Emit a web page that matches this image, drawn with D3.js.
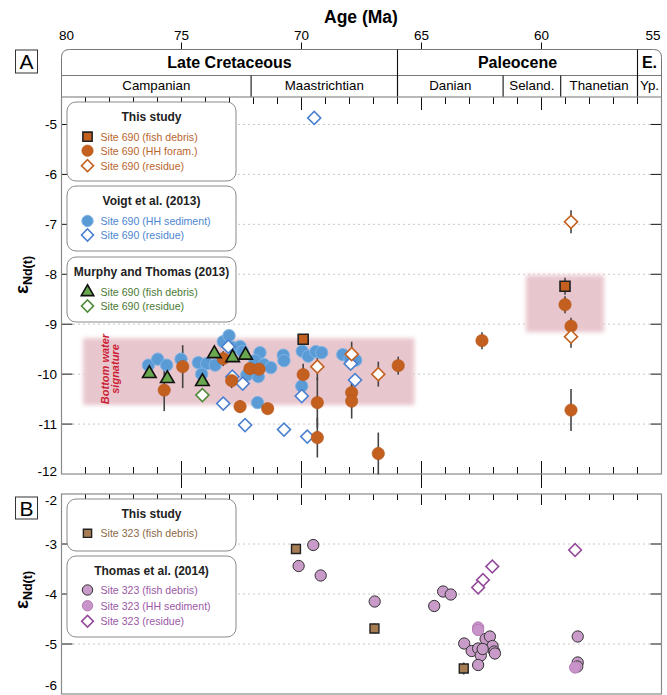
<!DOCTYPE html>
<html>
<head>
<meta charset="utf-8">
<script src="https://cdn.jsdelivr.net/npm/d3@7"></script>
<style>
  body{margin:0;background:#fff;}
  text{font-family:"Liberation Sans",Arial,Helvetica,sans-serif;}
</style>
</head>
<body>
<script>
// ---- data ----
var ageTicks=[80,75,70,65,60,55];
var eras=[["Late Cretaceous",80,66],["Paleocene",66,56],["E.",56,55]];
var stages=[["Campanian",80,72.1],["Maastrichtian",72.1,66],["Danian",66,61.6],["Seland.",61.6,59.2],["Thanetian",59.2,56],["Yp.",56,55]];
var ticksA=[-12,-11,-10,-9,-8,-7,-6,-5];
var ticksB=[-6,-5,-4,-3,-2];

// bottom water signature ranges [age0, age1, eNd0, eNd1]
var bands=[[79.1,65.3,-9.28,-10.62],[60.65,57.4,-8.02,-9.16]];

// Site 690  [age, eNd, err]
var fish690=[[69.93,-9.30,0],[59.02,-8.24,0.17]];
var foram690=[[75.72,-10.32,0.42],[74.95,-9.85,0.43],[73.26,-9.69,0.15],[72.91,-10.13,0.15],
  [72.15,-9.89,0.1],[71.77,-9.90,0.1],[72.56,-10.65,0.13],[71.41,-10.69,0.1],[69.93,-10.01,0.22],
  [69.34,-10.57,0.5],[69.34,-11.27,0.4],[67.91,-10.37,0.3],[67.91,-10.54,0.35],[66.80,-11.59,0.42],
  [65.97,-9.83,0.18],[62.48,-9.33,0.17],[59.02,-8.61,0.17],[58.77,-9.04,0.17],[58.77,-10.72,0.42]];
var res690=[[67.91,-9.60,0.25],[69.34,-9.85,0.27],[66.80,-10.00,0.25],[58.77,-9.25,0.22],[58.77,-6.95,0.23]];
var voigtHH=[[76.38,-9.82],[75.99,-9.70],[75.62,-9.82],[75.02,-9.70],[74.30,-9.77],[73.95,-9.79],
  [73.60,-9.82],[74.16,-10.00],[73.26,-9.35],[73.02,-9.23],[72.84,-9.47],[72.56,-9.45],[72.45,-9.55],
  [71.73,-9.57],[71.94,-9.73],[71.56,-9.81],[71.28,-9.87],[71.80,-10.05],[72.28,-10.02],[70.76,-9.62],
  [70.73,-9.73],[69.97,-9.54],[69.72,-9.64],[69.40,-9.55],[69.16,-9.57],[68.28,-9.61],[67.98,-9.69],
  [67.74,-9.72],[69.99,-10.24],[71.83,-10.57]];
var voigtRes=[[73.05,-9.45],[72.88,-10.05],[72.45,-10.19],[73.26,-10.59],[72.35,-11.02],[70.73,-11.11],
  [69.76,-11.25],[69.99,-10.44],[67.77,-10.12],[67.95,-9.79],[69.47,-4.87]];
var murphyFish=[[76.34,-9.99],[75.59,-10.09],[74.13,-10.15],[73.63,-9.59],[72.87,-9.67],[72.33,-9.62]];
var murphyRes=[[74.13,-10.42]];

// Site 323
var fish323=[[70.23,-3.10,0.1],[66.96,-4.69,0.1],[63.24,-5.49,0.12]];
var thomasFish=[[69.51,-3.02],[70.12,-3.44],[69.20,-3.63],[66.95,-4.15],[64.47,-4.24],[64.10,-3.95],
  [63.78,-4.01],[63.22,-4.99],[62.91,-5.14],[62.64,-5.09],[62.53,-5.23],[62.64,-5.42],[62.33,-4.90],
  [62.15,-4.85],[62.04,-5.04],[61.97,-5.15],[61.94,-5.19],[62.45,-5.10],[58.49,-4.85],[58.49,-5.37],[58.51,-5.45]];
var thomasHH=[[62.64,-4.67],[62.64,-4.72],[58.60,-5.47]];
var thomasRes=[[58.60,-3.12],[62.05,-3.45],[62.44,-3.72],[62.64,-3.87]];

// ---- styles ----
var C={orange:"#c4601f",orangeTxt:"#b9652e",blue:"#5b9bd5",blueEdge:"#4a7fd0",blueTxt:"#4d86cf",
  green:"#6aa84f",greenEdge:"#4f8a3a",greenTxt:"#4a7a35",brown:"#a67c52",brownTxt:"#8d6a48",
  purple:"#c89bc8",purpleEdge:"#93499b",purpleTxt:"#9c58a6"};

var st={
  fish690:{type:d3.symbolSquare,size:100,fill:C.orange,stroke:"#222",sw:1.6},
  foram690:{type:d3.symbolCircle,size:120,fill:C.orange,stroke:"#b5561a",sw:0.6},
  res690:{type:"diamond",size:85,fill:"#fff",stroke:C.orange,sw:1.6},
  voigtHH:{type:d3.symbolCircle,size:120,fill:C.blue,stroke:"#80b3e6",sw:1},
  voigtRes:{type:"diamond",size:85,fill:"#fff",stroke:C.blueEdge,sw:1.6},
  murphyFish:{type:d3.symbolTriangle,size:80,fill:C.green,stroke:"#111",sw:1.6},
  murphyRes:{type:"diamond",size:85,fill:"#fff",stroke:C.greenEdge,sw:1.6},
  fish323:{type:d3.symbolSquare,size:80,fill:C.brown,stroke:"#222",sw:1.4},
  thomasFish:{type:d3.symbolCircle,size:100,fill:C.purple,stroke:"#333",sw:1},
  thomasHH:{type:d3.symbolCircle,size:100,fill:"#c994c9",stroke:"#b47db6",sw:1},
  thomasRes:{type:"diamond",size:80,fill:"#fff",stroke:C.purpleEdge,sw:1.6}
};

function symPath(s,scale){
  var t=s.type==="diamond"?d3.symbolSquare:s.type;
  return d3.symbol().type(t).size(s.size*(scale||1))();
}
function symRot(s){return s.type==="diamond"?" rotate(45)":"";}

// ---- svg ----
var svg=d3.select("body").append("svg").attr("width",667).attr("height",695);
var defs=svg.append("defs");
defs.append("filter").attr("id","blur").attr("x","-10%").attr("y","-20%").attr("width","120%").attr("height","140%")
  .append("feGaussianBlur").attr("stdDeviation",2);

var x=d3.scaleLinear().domain([80,55]).range([61.5,661.5]);
var yA=d3.scaleLinear().domain([-12,-4.45]).range([474,97]);
var yB=d3.scaleLinear().domain([-6,-2]).range([694,494]);
var x0=x(80),x1=x(55);

// title + top age labels
svg.append("text").attr("x",361).attr("y",23).attr("text-anchor","middle")
  .attr("font-size",17.5).attr("font-weight","bold").text("Age (Ma)");
ageTicks.forEach(function(t,i){
  var last=i===ageTicks.length-1;
  svg.append("text").attr("x",i===0?x(t)-2.5:(last?x(t)-1:x(t)))
    .attr("y",40).attr("font-size",13.5)
    .attr("text-anchor",i===0?"start":(last?"end":"middle")).text(t);
  if(i>0&&!last) svg.append("line").attr("x1",x(t)).attr("x2",x(t)).attr("y1",42.5).attr("y2",49.5)
    .attr("stroke","#111").attr("stroke-width",1);
});

// timescale
var ts=svg.append("g");
ts.append("path").attr("d","M"+x0+",97V57.5Q"+x0+",49.5 "+(x0+8)+",49.5H"+(x1-8)+"Q"+x1+",49.5 "+x1+",57.5V97")
  .attr("fill","none").attr("stroke","#777").attr("stroke-width",1);
ts.append("line").attr("x1",x0).attr("x2",x1).attr("y1",75.5).attr("y2",75.5).attr("stroke","#777");
eras.forEach(function(e){
  ts.append("text").attr("x",(x(e[1])+x(e[2]))/2).attr("y",67.5).attr("text-anchor","middle")
    .attr("font-size",16).attr("font-weight","bold").text(e[0]);
  if(e[2]>55) ts.append("line").attr("x1",x(e[2])).attr("x2",x(e[2])).attr("y1",49.5).attr("y2",97)
    .attr("stroke","#111").attr("stroke-width",1.1);
});
stages.forEach(function(s){
  ts.append("text").attr("x",(x(s[1])+x(s[2]))/2).attr("y",90).attr("text-anchor","middle")
    .attr("font-size",13.3).text(s[0]);
  if(s[2]>55) ts.append("line").attr("x1",x(s[2])).attr("x2",x(s[2])).attr("y1",75.5).attr("y2",97)
    .attr("stroke","#111").attr("stroke-width",1.1);
});

// panel letters
[["A",50,23],["B",497,22]].forEach(function(p){
  svg.append("rect").attr("x",15.5).attr("y",p[1]).attr("width",22).attr("height",p[2])
    .attr("fill","none").attr("stroke","#333").attr("stroke-width",1);
  svg.append("text").attr("x",26.5).attr("y",p[1]+p[2]/2+7.5).attr("text-anchor","middle")
    .attr("font-size",21).text(p[0]);
});

// y axis labels
function yLabel(cy){
  var t=svg.append("text").attr("transform","translate(28,"+cy+") rotate(-90)")
    .attr("text-anchor","middle").attr("font-weight","bold");
  t.append("tspan").attr("font-size",19).text("\u03b5");
  t.append("tspan").attr("font-size",12.5).attr("dy",4).text("Nd(t)");
}
yLabel(275);yLabel(590);

// grid, ticks, frames
function panel(y,ticks,top){
  var g=svg.append("g");
  var dom=y.domain();
  ticks.forEach(function(v){
    var yy=y(v);
    var atBottom=v===dom[0],atTop=v===dom[1];
    var dy=atBottom?(top==="A"?-3:-9):(atTop?6:0);
    g.append("text").attr("x",57).attr("y",yy+5+dy).attr("text-anchor","end").attr("font-size",13.5).text(v);
    if(!atBottom&&!atTop){
      g.append("line").attr("x1",73).attr("x2",650).attr("y1",yy).attr("y2",yy)
        .attr("stroke","#c8c8c8").attr("stroke-dasharray","2,3");
      g.append("line").attr("x1",x0).attr("x2",x0+11).attr("y1",yy).attr("y2",yy).attr("stroke","#111");
      g.append("line").attr("x1",x1-11).attr("x2",x1).attr("y1",yy).attr("y2",yy).attr("stroke","#111");
    }
  });
  d3.range(79,55,-1).forEach(function(t){
    var major=t%5===0,xx=x(t);
    if(top==="A"){
      g.append("line").attr("x1",xx).attr("x2",xx).attr("y1",97).attr("y2",97+(major?13:7)).attr("stroke","#111");
      g.append("line").attr("x1",xx).attr("x2",xx).attr("y1",major?461:467).attr("y2",major?488:474).attr("stroke","#111");
    } else {
      g.append("line").attr("x1",xx).attr("x2",xx).attr("y1",494).attr("y2",494+(major?11:6)).attr("stroke","#111");
    }
  });
  g.append("rect").attr("x",x0).attr("y",y.range()[1]).attr("width",x1-x0).attr("height",y.range()[0]-y.range()[1])
    .attr("fill","none").attr("stroke","#8a8a8a").attr("stroke-width",1.2);
  return g;
}
panel(yA,ticksA,"A");
panel(yB,ticksB,"B");

// bands
var bandG=svg.append("g").attr("filter","url(#blur)");
bands.forEach(function(b){
  bandG.append("rect").attr("x",x(b[0])).attr("y",yA(b[2])).attr("width",x(b[1])-x(b[0]))
    .attr("height",yA(b[3])-yA(b[2])).attr("fill","#e8c6cd");
});
var bw=svg.append("text").attr("transform","translate(109,369) rotate(-90)").attr("text-anchor","middle")
  .attr("font-size",11).attr("font-weight","bold").attr("font-style","italic").attr("fill","#cc1f36");
bw.append("tspan").attr("x",0).attr("y",0).text("Bottom water");
bw.append("tspan").attr("x",0).attr("y",10).text("signature");

// legends
function legend(bx,by,bh,title,items){
  var g=svg.append("g");
  g.append("rect").attr("x",bx).attr("y",by).attr("width",169).attr("height",bh).attr("rx",9)
    .attr("fill","#fff").attr("stroke","#8a8a8a").attr("stroke-width",1);
  g.append("text").attr("x",bx+84.5).attr("y",by+19).attr("text-anchor","middle")
    .attr("font-size",12).attr("font-weight","bold").attr("fill","#222").text(title);
  items.forEach(function(it){
    var cy=by+it[3];
    var s=st[it[0]];
    g.append("path").attr("d",symPath(s,0.85)).attr("transform","translate("+(bx+20.5)+","+cy+")"+symRot(s))
      .attr("fill",s.fill).attr("stroke",s.stroke).attr("stroke-width",s.sw);
    g.append("text").attr("x",bx+33.5).attr("y",cy+4).attr("font-size",10.6).attr("fill",it[2]).text(it[1]);
  });
}
legend(67,102,79,"This study",[["fish690","Site 690 (fish debris)",C.orangeTxt,34.7],
  ["foram690","Site 690 (HH foram.)",C.orangeTxt,48.7],["res690","Site 690 (residue)",C.orangeTxt,63.7]]);
legend(67,186,65,"Voigt et al. (2013)",[["voigtHH","Site 690 (HH sediment)",C.blueTxt,35],
  ["voigtRes","Site 690 (residue)",C.blueTxt,49]]);
legend(67,257,65,"Murphy and Thomas (2013)",[["murphyFish","Site 690 (fish debris)",C.greenTxt,35],
  ["murphyRes","Site 690 (residue)",C.greenTxt,49]]);
legend(67,499,52,"This study",[["fish323","Site 323 (fish debris)",C.brownTxt,34.3]]);
legend(67,556,81,"Thomas et al. (2014)",[["thomasFish","Site 323 (fish debris)",C.purpleTxt,34],
  ["thomasHH","Site 323 (HH sediment)",C.purpleTxt,49.7],["thomasRes","Site 323 (residue)",C.purpleTxt,65.3]]);

// data
function errBars(data,y){
  svg.append("g").selectAll("line").data(data.filter(function(d){return d[2]>0;})).enter().append("line")
    .attr("x1",function(d){return x(d[0]);}).attr("x2",function(d){return x(d[0]);})
    .attr("y1",function(d){return y(d[1]-d[2]);}).attr("y2",function(d){return y(d[1]+d[2]);})
    .attr("stroke","#444").attr("stroke-width",1.6);
}
function marks(data,y,key){
  var s=st[key];
  svg.append("g").selectAll("path").data(data).enter().append("path")
    .attr("d",symPath(s))
    .attr("transform",function(d){return "translate("+x(d[0])+","+y(d[1])+")"+symRot(s);})
    .attr("fill",s.fill).attr("stroke",s.stroke).attr("stroke-width",s.sw);
}
errBars(foram690,yA);errBars(res690,yA);errBars(fish690,yA);
marks(voigtHH,yA,"voigtHH");
marks(voigtRes,yA,"voigtRes");
marks(murphyRes,yA,"murphyRes");
marks(foram690,yA,"foram690");
marks(res690,yA,"res690");
marks(murphyFish,yA,"murphyFish");
marks(fish690,yA,"fish690");

errBars(fish323,yB);
marks(thomasRes,yB,"thomasRes");
marks(thomasFish,yB,"thomasFish");
marks(thomasHH,yB,"thomasHH");
marks(fish323,yB,"fish323");
</script>
</body>
</html>
